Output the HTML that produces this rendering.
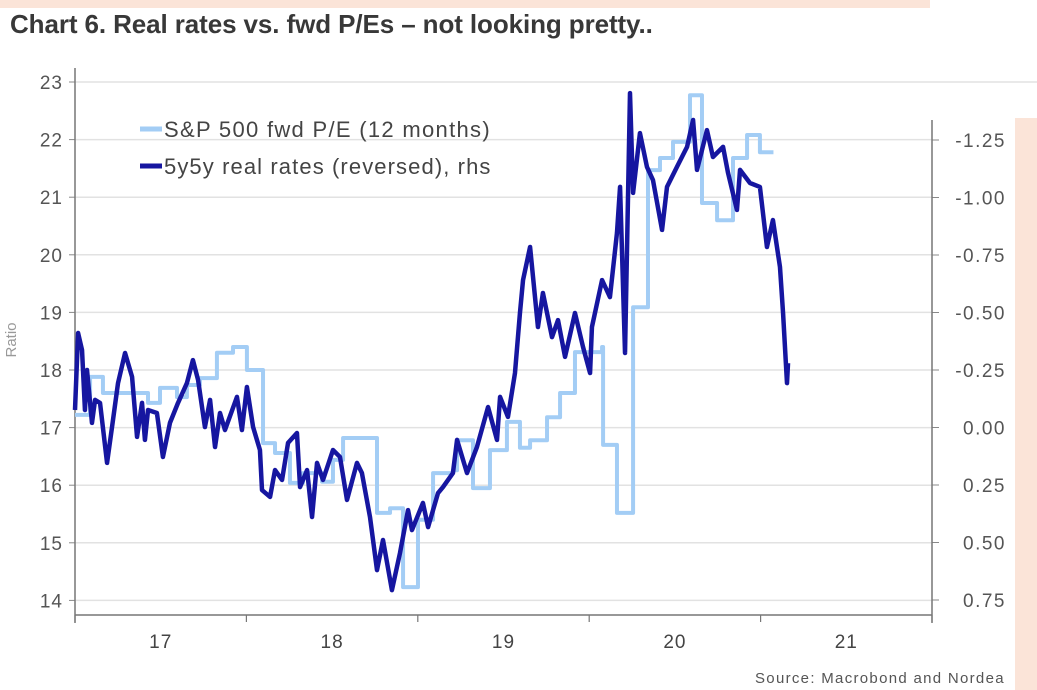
<!DOCTYPE html>
<html><head><meta charset="utf-8">
<style>
html,body{margin:0;padding:0;}
body{width:1037px;height:690px;position:relative;overflow:hidden;background:#fff;font-family:"Liberation Sans",sans-serif;}
.band{position:absolute;background:#fbe4d8;}
#title{position:absolute;left:10px;top:9px;font-size:26px;color:#383838;letter-spacing:-0.1px;font-weight:bold;white-space:nowrap;}
#source{position:absolute;left:755px;top:670px;font-size:15px;color:#555;letter-spacing:1.3px;white-space:nowrap;}
svg{position:absolute;left:0;top:0;}
</style></head>
<body>
<div class="band" style="left:0;top:0;width:930px;height:8px"></div>
<div class="band" style="left:1015px;top:118px;width:22px;height:572px"></div>
<div id="title">Chart 6. Real rates vs. fwd P/Es – not looking pretty..</div>
<svg id="chart" width="1037" height="690"></svg>
<div id="source">Source: Macrobond and Nordea</div>
<script>
const leftTicks=[14,15,16,17,18,19,20,21,22,23];
const rightTicks=[-1.25,-1.00,-0.75,-0.50,-0.25,0.00,0.25,0.50,0.75];
const rightTickLabels=["-1.25","-1.00","-0.75","-0.50","-0.25","0.00","0.25","0.50","0.75"];
const yearLabels=["17","18","19","20","21"];
const yearStarts=[2017,2018,2019,2020,2021,2022];
const peDates=[2017.000,2017.088,2017.163,2017.426,2017.496,2017.595,2017.653,2017.729,2017.828,2017.922,2018.003,2018.097,2018.167,2018.254,2018.330,2018.441,2018.505,2018.564,2018.762,2018.838,2018.914,2019.001,2019.089,2019.205,2019.229,2019.322,2019.421,2019.520,2019.596,2019.655,2019.754,2019.830,2019.917,2020.075,2020.081,2020.162,2020.256,2020.343,2020.413,2020.489,2020.588,2020.658,2020.746,2020.839,2020.921,2020.996];
const peValues=[17.22,17.88,17.60,17.43,17.69,17.53,17.74,17.86,18.30,18.40,18.00,16.73,16.56,16.04,16.21,16.06,16.44,16.82,15.52,15.60,14.23,15.40,16.21,16.26,16.78,15.95,16.61,17.10,16.65,16.78,17.18,17.60,18.31,18.40,16.70,15.52,19.09,21.47,21.68,21.96,22.77,20.90,20.60,21.68,22.08,21.78];
const peEnd=2021.075;
const rrDates=[2017.000,2017.018,2017.041,2017.058,2017.070,2017.099,2017.117,2017.146,2017.187,2017.216,2017.251,2017.292,2017.333,2017.362,2017.391,2017.408,2017.426,2017.478,2017.513,2017.554,2017.601,2017.653,2017.688,2017.718,2017.758,2017.788,2017.817,2017.846,2017.875,2017.945,2017.974,2018.003,2018.039,2018.079,2018.091,2018.138,2018.167,2018.208,2018.243,2018.295,2018.313,2018.354,2018.383,2018.412,2018.447,2018.505,2018.546,2018.587,2018.645,2018.674,2018.721,2018.762,2018.797,2018.849,2018.896,2018.943,2018.966,2019.030,2019.060,2019.118,2019.147,2019.205,2019.229,2019.287,2019.345,2019.410,2019.462,2019.480,2019.526,2019.567,2019.596,2019.614,2019.655,2019.701,2019.730,2019.783,2019.818,2019.859,2019.917,2019.964,2020.005,2020.016,2020.075,2020.121,2020.162,2020.180,2020.209,2020.238,2020.256,2020.296,2020.337,2020.372,2020.425,2020.454,2020.512,2020.571,2020.606,2020.629,2020.687,2020.722,2020.781,2020.810,2020.862,2020.880,2020.938,2020.996,2021.037,2021.072,2021.113,2021.131,2021.154,2021.160];
const rrValues=[-0.076,-0.411,-0.337,-0.076,-0.250,-0.020,-0.120,-0.107,0.154,-0.002,-0.193,-0.324,-0.220,0.041,-0.107,0.054,-0.076,-0.063,0.128,-0.020,-0.107,-0.193,-0.293,-0.207,-0.002,-0.120,0.085,-0.063,0.011,-0.133,0.011,-0.176,-0.002,0.098,0.272,0.302,0.185,0.228,0.067,0.024,0.259,0.185,0.389,0.154,0.228,0.098,0.128,0.315,0.154,0.198,0.389,0.620,0.489,0.707,0.546,0.359,0.446,0.328,0.433,0.285,0.259,0.198,0.054,0.198,0.085,-0.089,0.054,-0.133,-0.046,-0.237,-0.498,-0.641,-0.785,-0.437,-0.585,-0.393,-0.467,-0.307,-0.498,-0.350,-0.237,-0.437,-0.641,-0.567,-0.846,-1.046,-0.324,-1.454,-1.020,-1.280,-1.133,-1.076,-0.859,-1.046,-1.133,-1.220,-1.337,-1.120,-1.293,-1.176,-1.220,-1.107,-0.946,-1.120,-1.063,-1.046,-0.785,-0.902,-0.698,-0.498,-0.193,-0.280];

const svg=document.getElementById('chart');
const NS='http://www.w3.org/2000/svg';
const X0=75,X1=932,YB=615;
const FONT='Liberation Sans, sans-serif';
function xs(t){return X0+(t-2017)*171.4;}
function yl(v){return 82+(23-v)*57.6;}
function yr(v){return 140+(v+1.25)*230;}
function mk(tag,attrs,parent){const e=document.createElementNS(NS,tag);for(const k in attrs)e.setAttribute(k,attrs[k]);(parent||svg).appendChild(e);return e;}

leftTicks.forEach(v=>{
  const g=mk('line',{x1:X0,x2:v===23?1037:X1,y1:yl(v),y2:yl(v),stroke:'#e2e2e2','stroke-width':1.5});
  
  
  const tk=mk('line',{x1:X0-6,x2:X0,y1:yl(v),y2:yl(v),stroke:'#888','stroke-width':1});
  
  
  const t=mk('text',{x:X0-12,y:yl(v)+7,'text-anchor':'end','font-size':19,fill:'#555','font-family':FONT,'letter-spacing':1});
  t.textContent=v;
  
  
});
rightTicks.forEach((v,i)=>{
  const tk=mk('line',{x1:X1,x2:X1+7,y1:yr(v),y2:yr(v),stroke:'#888','stroke-width':1});
  
  
  const t=mk('text',{x:1006,y:yr(v)+7,'text-anchor':'end','font-size':19,fill:'#555','font-family':FONT,'letter-spacing':1.5});
  t.textContent=rightTickLabels[i];
  
  
});
let a=mk('line',{x1:X0,x2:X0,y1:68,y2:YB+8,stroke:'#777','stroke-width':1.5});


a=mk('line',{x1:X1,x2:X1,y1:120,y2:YB+8,stroke:'#777','stroke-width':1.5});


a=mk('line',{x1:X0,x2:X1,y1:YB,y2:YB,stroke:'#777','stroke-width':1.5});


yearStarts.forEach(y=>{
  const tk=mk('line',{x1:xs(y),x2:xs(y),y1:YB,y2:YB+7,stroke:'#777','stroke-width':1.2});
  
  
});
yearLabels.forEach((l,i)=>{
  const t=mk('text',{x:xs(yearStarts[i]+0.5),y:648,'text-anchor':'middle','font-size':19,fill:'#444','font-family':FONT,'letter-spacing':1});
  t.textContent=l;
  
  
});
let yt=mk('text',{x:0,y:0,transform:'translate(16,340) rotate(-90)','text-anchor':'middle','font-size':15,fill:'#999','font-family':FONT});
yt.textContent='Ratio';



let d='';
peDates.forEach((t,i)=>{
  const x=xs(t),y=yl(peValues[i]);
  d+= i===0?`M${x},${y}`:`V${y}`;
  const nx= i<peDates.length-1?xs(peDates[i+1]):xs(peEnd);
  d+=`H${nx}`;
});
let p=mk('path',{d:d,fill:'none',stroke:'#a3cdf5','stroke-width':4,'stroke-linejoin':'round'});


d='';
rrDates.forEach((t,i)=>{d+=(i?'L':'M')+xs(t)+','+yr(rrValues[i]);});
p=mk('path',{d:d,fill:'none',stroke:'#1616a0','stroke-width':4.5,'stroke-linejoin':'round'});



const lg=mk('g',{});


let l1=mk('line',{x1:140,x2:162,y1:129,y2:129,stroke:'#a3cdf5','stroke-width':5},lg);


let t1=mk('text',{x:164,y:137,'font-size':22,fill:'#444','font-family':FONT,'letter-spacing':1.3},lg);
t1.textContent='S&P 500 fwd P/E (12 months)';


let l2=mk('line',{x1:140,x2:162,y1:166,y2:166,stroke:'#1616a0','stroke-width':5},lg);


let t2=mk('text',{x:164,y:174,'font-size':22,fill:'#444','font-family':FONT,'letter-spacing':1.1},lg);
t2.textContent='5y5y real rates (reversed), rhs';


</script>
</body></html>
